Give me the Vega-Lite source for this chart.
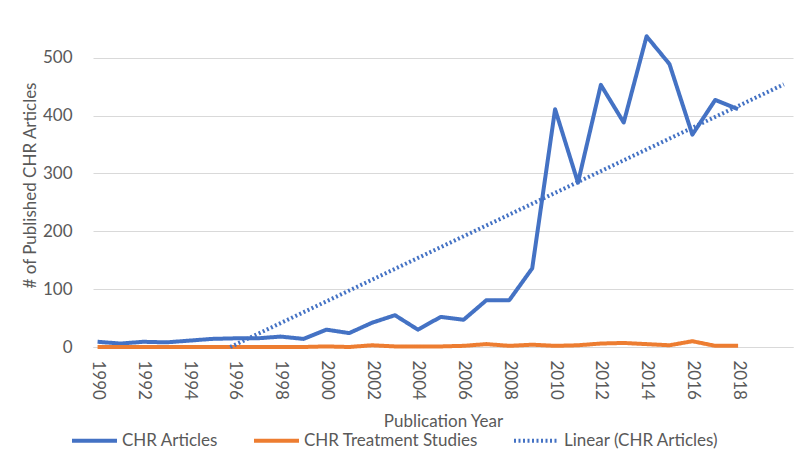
{
  "$schema": "https://vega.github.io/schema/vega-lite/v6.json",
  "width": 700,
  "height": 324,
  "autosize": {"type": "none"},
  "padding": {"left": 93, "top": 23, "right": 7, "bottom": 123},
  "background": "white",
  "config": {
    "font": "Lato",
    "view": {"stroke": null},
    "axis": {"labelColor": "#595959", "titleColor": "#595959", "labelFont": "Lato", "titleFont": "Lato"}
  },
  "data": {
    "values": [
      {"year": 1990, "series": "CHR Articles", "value": 9},
      {"year": 1991, "series": "CHR Articles", "value": 6},
      {"year": 1992, "series": "CHR Articles", "value": 9},
      {"year": 1993, "series": "CHR Articles", "value": 8},
      {"year": 1994, "series": "CHR Articles", "value": 11},
      {"year": 1995, "series": "CHR Articles", "value": 14},
      {"year": 1996, "series": "CHR Articles", "value": 15},
      {"year": 1997, "series": "CHR Articles", "value": 15},
      {"year": 1998, "series": "CHR Articles", "value": 18},
      {"year": 1999, "series": "CHR Articles", "value": 14},
      {"year": 2000, "series": "CHR Articles", "value": 30},
      {"year": 2001, "series": "CHR Articles", "value": 24},
      {"year": 2002, "series": "CHR Articles", "value": 42},
      {"year": 2003, "series": "CHR Articles", "value": 55},
      {"year": 2004, "series": "CHR Articles", "value": 30},
      {"year": 2005, "series": "CHR Articles", "value": 52},
      {"year": 2006, "series": "CHR Articles", "value": 47},
      {"year": 2007, "series": "CHR Articles", "value": 81},
      {"year": 2008, "series": "CHR Articles", "value": 81},
      {"year": 2009, "series": "CHR Articles", "value": 136},
      {"year": 2010, "series": "CHR Articles", "value": 411},
      {"year": 2011, "series": "CHR Articles", "value": 284},
      {"year": 2012, "series": "CHR Articles", "value": 453},
      {"year": 2013, "series": "CHR Articles", "value": 388},
      {"year": 2014, "series": "CHR Articles", "value": 537},
      {"year": 2015, "series": "CHR Articles", "value": 489},
      {"year": 2016, "series": "CHR Articles", "value": 367},
      {"year": 2017, "series": "CHR Articles", "value": 427},
      {"year": 2018, "series": "CHR Articles", "value": 411},
      {"year": 1990, "series": "CHR Treatment Studies", "value": 0},
      {"year": 1991, "series": "CHR Treatment Studies", "value": 0},
      {"year": 1992, "series": "CHR Treatment Studies", "value": 0},
      {"year": 1993, "series": "CHR Treatment Studies", "value": 0},
      {"year": 1994, "series": "CHR Treatment Studies", "value": 0},
      {"year": 1995, "series": "CHR Treatment Studies", "value": 0},
      {"year": 1996, "series": "CHR Treatment Studies", "value": 0},
      {"year": 1997, "series": "CHR Treatment Studies", "value": 0},
      {"year": 1998, "series": "CHR Treatment Studies", "value": 0},
      {"year": 1999, "series": "CHR Treatment Studies", "value": 0},
      {"year": 2000, "series": "CHR Treatment Studies", "value": 1},
      {"year": 2001, "series": "CHR Treatment Studies", "value": 0},
      {"year": 2002, "series": "CHR Treatment Studies", "value": 3},
      {"year": 2003, "series": "CHR Treatment Studies", "value": 1},
      {"year": 2004, "series": "CHR Treatment Studies", "value": 1},
      {"year": 2005, "series": "CHR Treatment Studies", "value": 1},
      {"year": 2006, "series": "CHR Treatment Studies", "value": 2},
      {"year": 2007, "series": "CHR Treatment Studies", "value": 5},
      {"year": 2008, "series": "CHR Treatment Studies", "value": 2},
      {"year": 2009, "series": "CHR Treatment Studies", "value": 4},
      {"year": 2010, "series": "CHR Treatment Studies", "value": 2},
      {"year": 2011, "series": "CHR Treatment Studies", "value": 3},
      {"year": 2012, "series": "CHR Treatment Studies", "value": 6},
      {"year": 2013, "series": "CHR Treatment Studies", "value": 7},
      {"year": 2014, "series": "CHR Treatment Studies", "value": 5},
      {"year": 2015, "series": "CHR Treatment Studies", "value": 3},
      {"year": 2016, "series": "CHR Treatment Studies", "value": 10},
      {"year": 2017, "series": "CHR Treatment Studies", "value": 2},
      {"year": 2018, "series": "CHR Treatment Studies", "value": 2},
      {"year": 1995.8, "series": "Linear (CHR Articles)", "value": 0},
      {"year": 2020, "series": "Linear (CHR Articles)", "value": 454}
    ]
  },
  "mark": {"type": "line", "strokeCap": "butt", "strokeJoin": "round"},
  "encoding": {
    "x": {
      "field": "year",
      "type": "quantitative",
      "scale": {"domain": [1989.8, 2020.4], "nice": false, "zero": false},
      "axis": {
        "values": [1990, 1992, 1994, 1996, 1998, 2000, 2002, 2004, 2006, 2008, 2010, 2012, 2014, 2016, 2018],
        "format": "d",
        "labelAngle": 90,
        "labelAlign": "left",
        "labelBaseline": "middle",
        "labelFontSize": 17,
        "labelPadding": 13,
        "ticks": false,
        "tickSize": 0,
        "grid": false,
        "domainColor": "#d9d9d9",
        "domainWidth": 1,
        "title": "Publication Year",
        "titleFontSize": 17,
        "titleFontWeight": "normal",
        "titlePadding": 14
      }
    },
    "y": {
      "field": "value",
      "type": "quantitative",
      "scale": {"domain": [0, 560], "nice": false},
      "axis": {
        "values": [0, 100, 200, 300, 400, 500],
        "labelFontSize": 17,
        "labelPadding": 21,
        "ticks": false,
        "tickSize": 0,
        "domain": false,
        "grid": true,
        "gridColor": "#d9d9d9",
        "gridWidth": 1,
        "title": "# of Published CHR Articles",
        "titleFontSize": 17,
        "titleFontWeight": "normal",
        "titlePadding": 3
      }
    },
    "color": {
      "field": "series",
      "type": "nominal",
      "scale": {
        "domain": ["CHR Articles", "CHR Treatment Studies", "Linear (CHR Articles)"],
        "range": ["#4472C4", "#ED7D31", "#4472C4"]
      },
      "legend": {
        "orient": "none",
        "legendX": -23,
        "legendY": 393,
        "direction": "horizontal",
        "title": null,
        "symbolType": "stroke",
        "symbolSize": 2025,
        "labelFontSize": 17,
        "labelColor": "#595959",
        "labelFont": "Lato",
        "labelOffset": 3,
        "columnPadding": 28,
        "labelLimit": 300
      }
    },
    "strokeDash": {
      "field": "series",
      "type": "nominal",
      "scale": {
        "domain": ["CHR Articles", "CHR Treatment Studies", "Linear (CHR Articles)"],
        "range": [[1, 0], [1, 0], [2, 2.5]]
      }
    },
    "strokeWidth": {
      "field": "series",
      "type": "nominal",
      "scale": {
        "domain": ["CHR Articles", "CHR Treatment Studies", "Linear (CHR Articles)"],
        "range": [4, 4, 2]
      }
    }
  }
}
